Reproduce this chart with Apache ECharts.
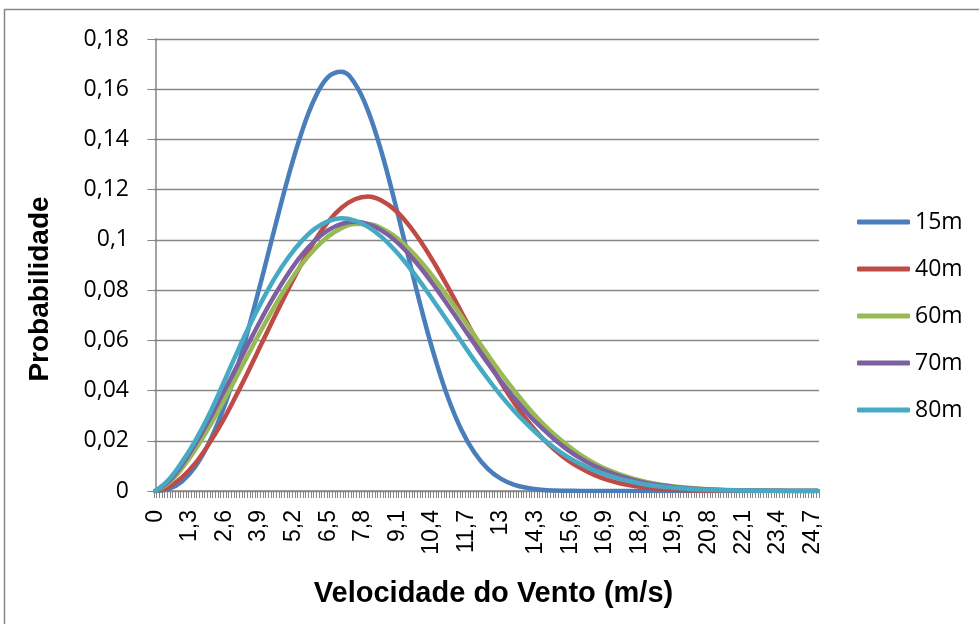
<!DOCTYPE html>
<html><head><meta charset="utf-8">
<script src="https://cdn.jsdelivr.net/npm/echarts@6/dist/echarts.min.js"></script>
<style>html,body{margin:0;padding:0;background:#fff}#c{width:979px;height:624px}</style>
</head><body><div id="c"></div>
<script>
// Wind speed categories (m/s), step 0,1
const categories = [
 0,0.1,0.2,0.3,0.4,0.5,0.6,0.7,0.8,0.9,
 1,1.1,1.2,1.3,1.4,1.5,1.6,1.7,1.8,1.9,
 2,2.1,2.2,2.3,2.4,2.5,2.6,2.7,2.8,2.9,
 3,3.1,3.2,3.3,3.4,3.5,3.6,3.7,3.8,3.9,
 4,4.1,4.2,4.3,4.4,4.5,4.6,4.7,4.8,4.9,
 5,5.1,5.2,5.3,5.4,5.5,5.6,5.7,5.8,5.9,
 6,6.1,6.2,6.3,6.4,6.5,6.6,6.7,6.8,6.9,
 7,7.1,7.2,7.3,7.4,7.5,7.6,7.7,7.8,7.9,
 8,8.1,8.2,8.3,8.4,8.5,8.6,8.7,8.8,8.9,
 9,9.1,9.2,9.3,9.4,9.5,9.6,9.7,9.8,9.9,
 10,10.1,10.2,10.3,10.4,10.5,10.6,10.7,10.8,10.9,
 11,11.1,11.2,11.3,11.4,11.5,11.6,11.7,11.8,11.9,
 12,12.1,12.2,12.3,12.4,12.5,12.6,12.7,12.8,12.9,
 13,13.1,13.2,13.3,13.4,13.5,13.6,13.7,13.8,13.9,
 14,14.1,14.2,14.3,14.4,14.5,14.6,14.7,14.8,14.9,
 15,15.1,15.2,15.3,15.4,15.5,15.6,15.7,15.8,15.9,
 16,16.1,16.2,16.3,16.4,16.5,16.6,16.7,16.8,16.9,
 17,17.1,17.2,17.3,17.4,17.5,17.6,17.7,17.8,17.9,
 18,18.1,18.2,18.3,18.4,18.5,18.6,18.7,18.8,18.9,
 19,19.1,19.2,19.3,19.4,19.5,19.6,19.7,19.8,19.9,
 20,20.1,20.2,20.3,20.4,20.5,20.6,20.7,20.8,20.9,
 21,21.1,21.2,21.3,21.4,21.5,21.6,21.7,21.8,21.9,
 22,22.1,22.2,22.3,22.4,22.5,22.6,22.7,22.8,22.9,
 23,23.1,23.2,23.3,23.4,23.5,23.6,23.7,23.8,23.9,
 24,24.1,24.2,24.3,24.4,24.5,24.6,24.7,24.8,24.9
];

// Points (speed, m/s)
const xs = [0,0.5,1,1.5,2,2.5,3,3.5,4,4.5,5,5.5,6,6.5,7,7.5,8,8.5,9,9.5,10,10.5,11,11.5,12,12.5,
 13,13.5,14,14.5,15,15.5,16,16.5,17,17.5,18,18.5,19,19.5,20,20.5,21,21.5,22,22.5,23,23.5,24,24.5,24.9];

const h15 = [0,0.0008,0.0038,0.0097,0.0188,0.0311,0.0465,0.0646,0.0845,0.1052,0.1252,0.1428,0.1565,0.1649,0.1670,0.1623,0.1513,0.1351,0.1152,0.0938,0.0726,0.0534,0.0372,0.0245,0.0152,0.0088,
 0.0048,0.0024,0.0012,0.0005,0.0002,0.0001,0,0,0,0,0,0,0,0,0,0,0,0,0,0,0,0,0,0,0];
const h40 = [0,0.0016,0.0054,0.0110,0.0185,0.0272,0.0372,0.0478,0.0588,0.0698,0.0804,0.0905,0.0998,0.1073,0.1128,0.1162,0.1173,0.1157,0.1120,0.1063,0.0990,0.0905,0.0812,0.0714,0.0615,0.0520,
 0.0431,0.0350,0.0278,0.0216,0.0165,0.0123,0.0090,0.0064,0.0044,0.0030,0.0020,0.0013,0.0008,0.0005,0.0003,0.0002,0.0001,0.0001,0,0,0,0,0,0,0];
const h60 = [0,0.0032,0.0090,0.0164,0.0250,0.0345,0.0444,0.0545,0.0644,0.0738,0.0825,0.0902,0.0965,0.1014,0.1047,0.1063,0.1063,0.1046,0.1014,0.0968,0.0911,0.0845,0.0773,0.0697,0.0619,0.0542,
 0.0468,0.0399,0.0334,0.0276,0.0225,0.0181,0.0143,0.0111,0.0085,0.0065,0.0048,0.0035,0.0025,0.0018,0.0013,0.0009,0.0006,0.0004,0.0003,0.0002,0.0001,0.0001,0,0,0];
const h70 = [0,0.0038,0.0104,0.0186,0.0279,0.0380,0.0483,0.0587,0.0688,0.0782,0.0866,0.0939,0.0997,0.1039,0.1064,0.1072,0.1063,0.1038,0.0999,0.0947,0.0885,0.0815,0.0740,0.0663,0.0585,0.0509,
 0.0437,0.0370,0.0308,0.0254,0.0206,0.0164,0.0129,0.0100,0.0077,0.0058,0.0043,0.0031,0.0023,0.0016,0.0011,0.0008,0.0005,0.0003,0.0002,0.0001,0.0001,0.0001,0,0,0];
const h80 = [0,0.0045,0.0115,0.0200,0.0300,0.0415,0.0535,0.0650,0.0755,0.0850,0.0930,0.0995,0.1045,0.1075,0.1086,0.1077,0.1052,0.1012,0.0960,0.0897,0.0827,0.0751,0.0674,0.0596,0.0519,0.0447,
 0.0379,0.0318,0.0263,0.0214,0.0172,0.0136,0.0107,0.0082,0.0063,0.0047,0.0035,0.0025,0.0018,0.0013,0.0009,0.0006,0.0004,0.0003,0.0002,0.0001,0.0001,0,0,0,0];

const seriesNames = ['15m','40m','60m','70m','80m'];
const seriesValues = [h15,h40,h60,h70,h80];
const colors = ['#4A7EBB','#BE4B48','#98B954','#7D60A0','#46AAC5'];

const comma = v => String(v).replace('.', ',');
const gray = '#868686';

const chart = echarts.init(document.getElementById('c'), null, {renderer:'canvas'});
chart.setOption({
  animation: false,
  backgroundColor: '#fff',
  color: colors,
  graphic: [{
    type: 'rect', silent: true, z: -1,
    shape: {x: 4.5, y: 9.5, width: 1100, height: 800},
    style: {fill: null, stroke: gray, lineWidth: 1.5}
  }],
  grid: {left: 154, right: 160, top: 39, bottom: 133, containLabel: false},
  legend: {
    orient: 'vertical', left: 857, top: 209, padding: 0,
    icon: 'roundRect', itemWidth: 53, itemHeight: 5, itemGap: 21,
    textStyle: {fontFamily: 'Open Sans', fontSize: 23, color: '#000', lineHeight: 26},
    data: seriesNames
  },
  xAxis: [{
    type: 'category', data: categories, boundaryGap: true,
    axisLine: {show: true, lineStyle: {color: gray, width: 1.5}},
    axisTick: {show: true, interval: 0, length: 7, lineStyle: {color: gray}},
    axisLabel: {interval: 12, rotate: 90, margin: 19, fontFamily: 'Liberation Sans', fontSize: 23, color: '#000', formatter: comma},
    splitLine: {show: false},
    name: 'Velocidade do Vento (m/s)', nameLocation: 'middle', nameGap: 88,
    nameTextStyle: {fontFamily: 'Liberation Sans', fontWeight: 'bold', fontSize: 29, color: '#000', padding: [0, 0, 0, 14]}
  }, {
    type: 'value', min: -0.05, max: 24.95, show: false
  }],
  yAxis: {
    type: 'value', min: 0, max: 0.18, interval: 0.02,
    axisLine: {show: true, lineStyle: {color: gray, width: 1.5}},
    axisTick: {show: true, length: 8, lineStyle: {color: gray}},
    axisLabel: {margin: 25, fontFamily: 'Open Sans', fontSize: 23, color: '#000', formatter: v => comma(+v.toFixed(2))},
    splitLine: {show: true, lineStyle: {color: gray, width: 1.3}},
    name: 'Probabilidade', nameLocation: 'middle', nameGap: 100,
    nameTextStyle: {fontFamily: 'Liberation Sans', fontWeight: 'bold', fontSize: 28, color: '#000', padding: [0, 48, 0, 0]}
  },
  series: seriesNames.map((n, s) => ({
    name: n, type: 'line', xAxisIndex: 1, yAxisIndex: 0,
    showSymbol: false, symbol: 'none', smooth: 0.4,
    lineStyle: {width: 4.5, color: colors[s], cap: 'round', join: 'round'},
    itemStyle: {color: colors[s]},
    data: xs.map((x, i) => [x, seriesValues[s][i]])
  }))
});
</script>
</body></html>
